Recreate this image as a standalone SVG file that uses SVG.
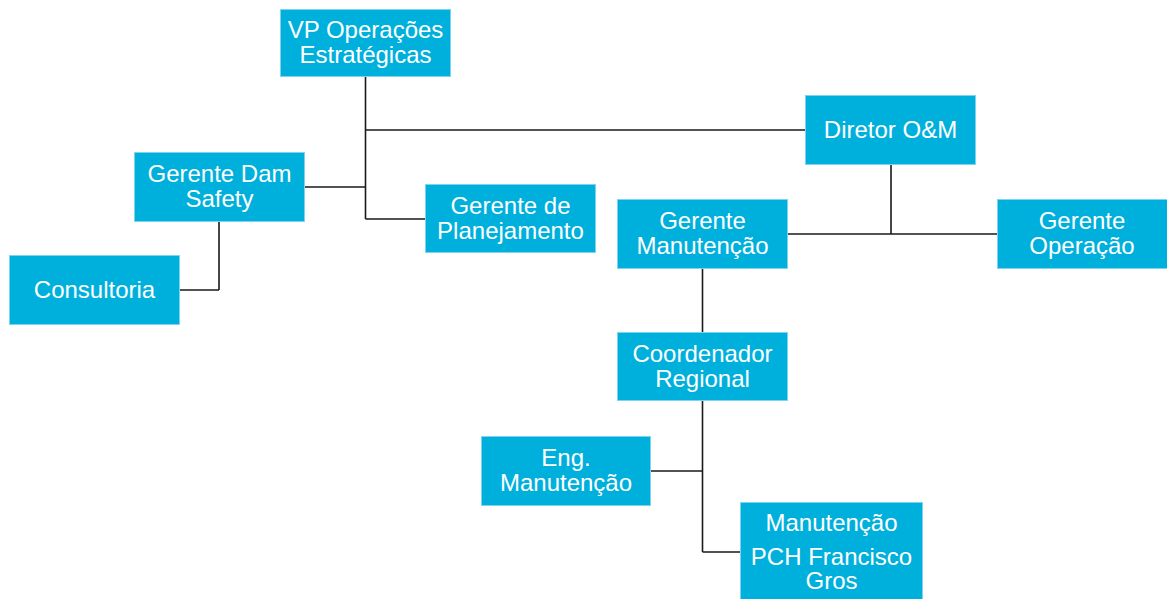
<svg xmlns="http://www.w3.org/2000/svg" width="1167" height="599" viewBox="0 0 1167 599">
<style>
.box{fill:#00B0DC;stroke:#7FD3EE;stroke-width:1}
.t{font-family:"Liberation Sans",Arial,sans-serif;font-size:24px;fill:#ffffff;text-anchor:middle}
.c{fill:none;stroke:#1a1a1a;stroke-width:1.6}
</style>
<rect width="1167" height="599" fill="#ffffff"/>
<g id="connectors">
<path class="c" d="M365.5,77 V219 M365.5,130 H806 M304,187 H365.5 M365.5,219 H426"/>
<path class="c" d="M891,165 V234 M788,234 H997"/>
<path class="c" d="M219,222 V290 M180,290 H219"/>
<path class="c" d="M702.5,269 V332"/>
<path class="c" d="M702.5,401 V552 M651,471 H702.5 M702.5,552 H740"/>
</g>
<g id="vp"><rect class="box" x="280.5" y="9.5" width="170" height="67"/><text class="t" x="365.5" y="38">VP Operações</text><text class="t" x="365.5" y="63">Estratégicas</text></g>
<g id="diretor"><rect class="box" x="805.5" y="95.5" width="170" height="69"/><text class="t" x="890.5" y="138">Diretor O&amp;M</text></g>
<g id="damsafety"><rect class="box" x="134.5" y="152.5" width="170" height="69"/><text class="t" x="219.5" y="182">Gerente Dam</text><text class="t" x="219.5" y="207">Safety</text></g>
<g id="planejamento"><rect class="box" x="425.5" y="184.5" width="170" height="68"/><text class="t" x="510.5" y="214">Gerente de</text><text class="t" x="510.5" y="239">Planejamento</text></g>
<g id="manutencao"><rect class="box" x="617.5" y="199.5" width="170" height="69"/><text class="t" x="702.5" y="229">Gerente</text><text class="t" x="702.5" y="254">Manutenção</text></g>
<g id="operacao"><rect class="box" x="997.5" y="199.5" width="170" height="69"/><text class="t" x="1082" y="229">Gerente</text><text class="t" x="1082" y="254">Operação</text></g>
<g id="consultoria"><rect class="box" x="9.5" y="255.5" width="170" height="69"/><text class="t" x="94.5" y="298">Consultoria</text></g>
<g id="coordenador"><rect class="box" x="617.5" y="332.5" width="170" height="68"/><text class="t" x="702.5" y="362">Coordenador</text><text class="t" x="702.5" y="387">Regional</text></g>
<g id="eng"><rect class="box" x="481.5" y="436.5" width="169" height="69"/><text class="t" x="566" y="466">Eng.</text><text class="t" x="566" y="491">Manutenção</text></g>
<g id="pch"><rect class="box" x="740.5" y="502.5" width="182" height="98"/><text class="t" x="831.5" y="531">Manutenção</text><text class="t" x="831.5" y="565">PCH Francisco</text><text class="t" x="831.5" y="589">Gros</text></g>
</svg>
